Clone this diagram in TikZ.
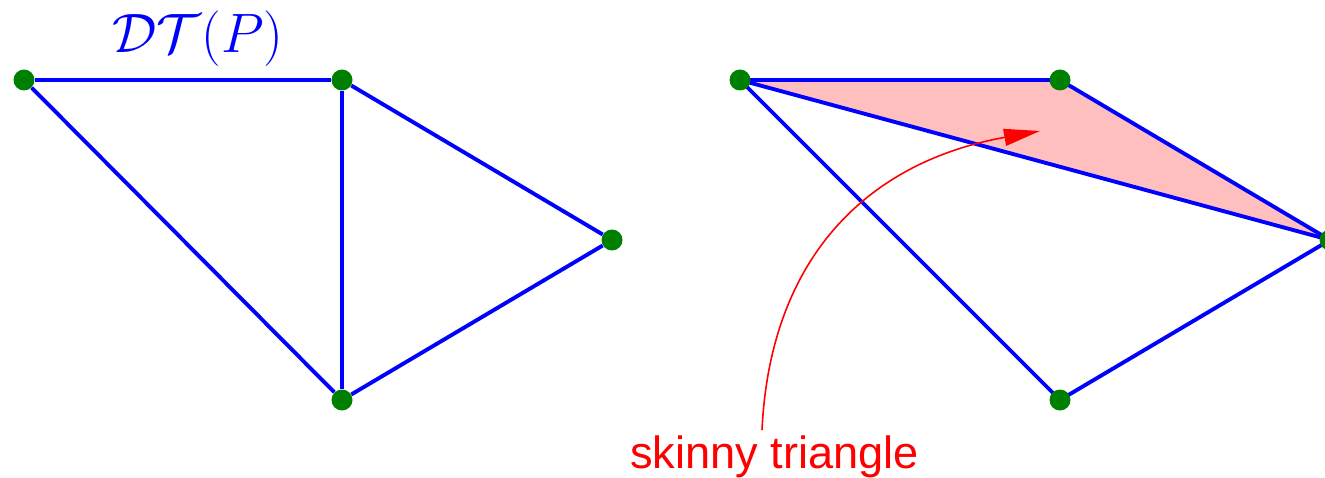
\documentclass[tikz,border=0pt]{standalone}
\usepackage{fontspec}
\newfontfamily\labelfont{Liberation Sans}
\usetikzlibrary{arrows.meta}
\begin{document}
\begin{tikzpicture}[every node/.style={inner sep=1pt}]
\tikzstyle{dot}=[circle,fill=green!50!black,minimum size=0.42cm,inner sep=0pt]
\tikzstyle{edge}=[draw,blue,line width=2.2pt]
\tikzstyle{arrow}=[draw,red,line width=0.9pt,-{Triangle[length=0.72cm,width=0.34cm]}]
\useasboundingbox (0,0) rectangle (26.5,-9.56);

% left: the Delaunay triangulation
\node[dot](p0) at (0.48,-1.6){};
\node[dot](p1) at (6.84,-1.6){};
\node[dot](p2) at (12.24,-4.8){};
\node[dot](p3) at (6.84,-8.0){};
\node[blue,font=\fontsize{24.88}{30}\selectfont](title) at (3.96,-0.78){\scalebox{1.27}{$\mathcal{DT}(P)$}};

% right: the flipped one
\coordinate(q0) at (14.8,-1.6);
\coordinate(q1) at (21.2,-1.6);
\coordinate(q2) at (26.6,-4.8);
\coordinate(q3) at (21.2,-8.0);
\fill[red!25](q0)--(q1)--(q2)--cycle;

\path[edge](p0)--(p1);
\path[edge](p1)--(p2);
\path[edge](p2)--(p3);
\path[edge](p3)--(p0);
\path[edge](p1)--(p3);

\path[edge](q0)--(q1);
\path[edge](q1)--(q2);
\path[edge](q0)--(q2);
\path[edge](q0)--(q3);
\path[edge](q3)--(q2);

\node[dot] at (q0){};
\node[dot] at (q1){};
\node[dot] at (q2){};
\node[dot] at (q3){};

\node[red,font=\labelfont\fontsize{25.7}{30}\selectfont,anchor=base](skinny) at (15.49,-9.36){skinny triangle};
\coordinate(from) at (15.24,-8.6);
\coordinate(tip) at (20.8,-2.62);
\path[arrow](from) .. controls (15.4,-5.2) and (17.3,-3.25) .. (tip);
\end{tikzpicture}
\end{document}
